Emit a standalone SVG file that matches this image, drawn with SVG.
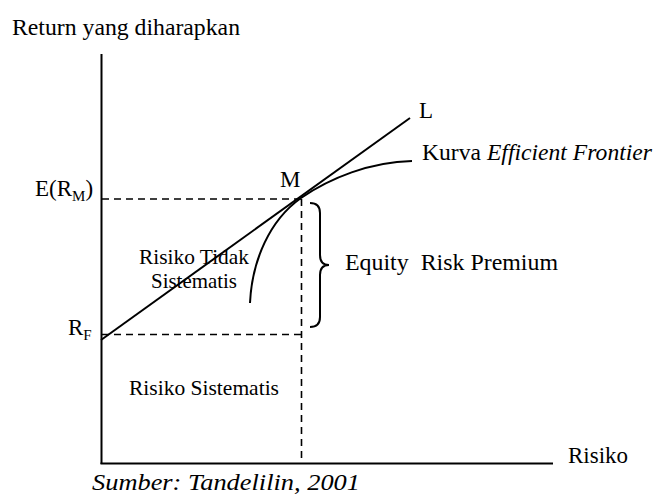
<svg xmlns="http://www.w3.org/2000/svg" width="658" height="502" viewBox="0 0 658 502">
<style>
.sm{font-size:21.5px}
.it{font-style:italic}
.ax{stroke:#000;stroke-width:2;fill:none}
.ln{stroke:#000;stroke-width:2;fill:none}
.dash{stroke:#000;stroke-width:1.6;stroke-dasharray:7,5;fill:none}
</style>
<rect width="658" height="502" fill="#fff"/>
<g id="axes" font-family="'Liberation Serif', 'DejaVu Serif', serif" font-size="23" fill="#000">
<line class="ax" x1="101.5" y1="54" x2="101.5" y2="464"/>
<line class="ax" x1="100.5" y1="463.5" x2="553" y2="463.5"/>
<text x="12" y="35" textLength="228" lengthAdjust="spacingAndGlyphs">Return yang diharapkan</text>
<text x="568" y="463" textLength="60" lengthAdjust="spacingAndGlyphs">Risiko</text>
</g>
<g id="connectors">
<line class="dash" x1="102" y1="199" x2="301" y2="199"/>
<line class="dash" x1="102" y1="334.5" x2="301" y2="334.5"/>
<line class="dash" x1="301.5" y1="199" x2="301.5" y2="463"/>
<line class="ln" x1="101" y1="340" x2="410" y2="118"/>
<path class="ln" d="M250,303 C252,260 270,220 301,198 C330,178 370,162 412,161"/>
<path class="ln" d="M310,203 Q320,203 320,213 L320,255 Q320,265 329,265 Q320,265 320,275 L320,317 Q320,327 310,327"/>
</g>
<g id="labels" font-family="'Liberation Serif', 'DejaVu Serif', serif" font-size="23" fill="#000">
<text x="35" y="196">E(R<tspan font-size="15" dy="5">M</tspan><tspan dy="-5">)</tspan></text>
<text x="68" y="335">R<tspan font-size="15" dy="5">F</tspan></text>
<text x="280" y="187">M</text>
<text x="419" y="118">L</text>
<text x="422" y="160" textLength="230" lengthAdjust="spacingAndGlyphs">Kurva <tspan class="it">Efficient Frontier</tspan></text>
<text x="345" y="270" textLength="213" lengthAdjust="spacingAndGlyphs">Equity&#160; Risk Premium</text>
<text class="sm" x="139" y="264" textLength="110" lengthAdjust="spacingAndGlyphs">Risiko Tidak</text>
<text class="sm" x="151" y="288" textLength="86" lengthAdjust="spacingAndGlyphs">Sistematis</text>
<text class="sm" x="129" y="395" textLength="150" lengthAdjust="spacingAndGlyphs">Risiko Sistematis</text>
<text class="it" x="92" y="490" textLength="268" lengthAdjust="spacingAndGlyphs">Sumber: Tandelilin, 2001</text>
</g>
</svg>
